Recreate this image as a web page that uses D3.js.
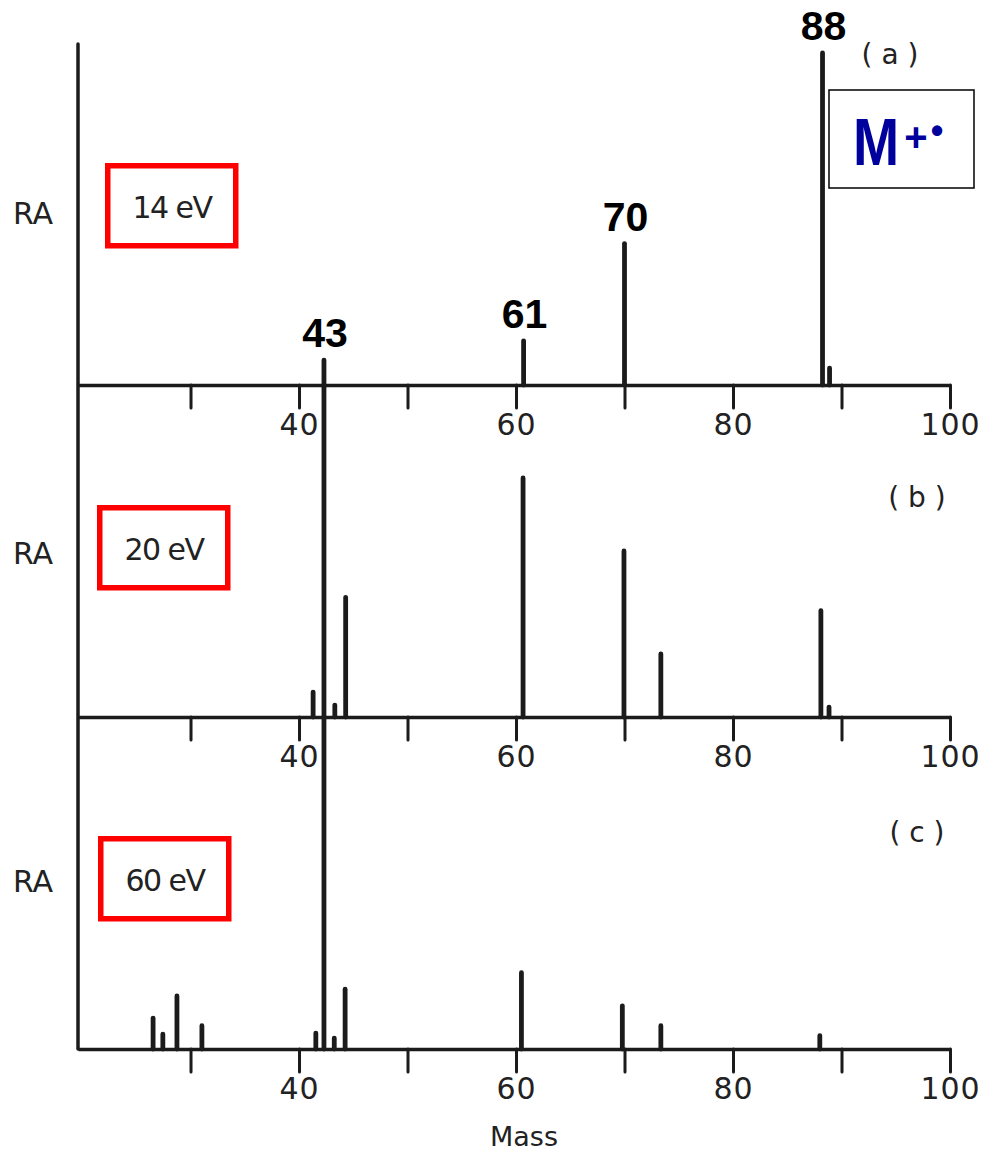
<!DOCTYPE html>
<html>
<head>
<meta charset="utf-8">
<script src="https://cdn.jsdelivr.net/npm/d3@7"></script>
<style>
  body { margin: 0; background: #fff; }
  svg { display: block; }
  .tick text { font-family: "DejaVu Sans", sans-serif; }
</style>
</head>
<body>
<script>
(function(){
  var width = 986;
  var height = 1155;

  // mass positions as drawn, relative abundance (% of base peak)
  var massesA = [42.3, 60.7, 70.0, 88.25, 88.9];
  var valuesA = [7.5, 13.3, 42.6, 100, 5.1];

  var massesB = [41.3, 42.3, 43.3, 44.3, 60.65, 69.95, 73.35, 88.1, 88.85];
  var valuesB = [7.5, 100, 3.6, 36, 72, 50, 19, 32, 3];

  var massesC = [26.55, 27.45, 28.75, 31.05, 41.55, 42.3, 43.25, 44.25, 60.5, 69.8, 73.35, 88.0];
  var valuesC = [9.3, 4.5, 16, 7, 4.8, 99.5, 3.3, 18, 23, 13, 7, 4];

  var energies = ["14 eV", "20 eV", "60 eV"];
  var panelTags = ["( a )", "( b )", "( c )"];

  var peakLabels = ["43", "61", "70", "88"];
  var peakLabelMasses = [42.3, 60.7, 70.0, 88.25];
  var peakLabelValues = [7.5, 13.3, 42.6, 100];

  var tickValues = [30, 40, 50, 60, 70, 80, 90, 100];
  var tickLabels = [40, 60, 80, 100];

  var panels = [
    { masses: massesA, values: valuesA },
    { masses: massesB, values: valuesB },
    { masses: massesC, values: valuesC }
  ];

  var ink = "#1b1b1b";
  var firstBase = 385;
  var panelStep = 332;

  var x = d3.scaleLinear().domain([19.63, 100]).range([78, 950]);
  var y = d3.scaleLinear().domain([0, 100]).range([0, 332]);

  var svg = d3.select("body").append("svg")
    .attr("width", width)
    .attr("height", height);

  // shared vertical axis
  svg.append("line")
    .attr("x1", x(19.63)).attr("x2", x(19.63))
    .attr("y1", firstBase - y(102.7))
    .attr("y2", firstBase + 2 * panelStep)
    .attr("stroke", ink)
    .attr("stroke-width", 3.5)
    .attr("stroke-linecap", "round");

  panels.forEach(function(p, i) {
    var base = firstBase + i * panelStep;
    var g = svg.append("g");

    var axis = d3.axisBottom(x)
      .tickValues(tickValues)
      .tickSize(23)
      .tickSizeOuter(0)
      .tickPadding(6)
      .tickFormat(function(d) { return tickLabels.indexOf(d) >= 0 ? d : ""; });

    var ax = g.append("g")
      .attr("transform", "translate(0," + base + ")")
      .call(axis);
    ax.select(".domain")
      .attr("stroke", ink)
      .attr("stroke-width", 3.5);
    ax.selectAll(".tick line")
      .attr("stroke", ink)
      .attr("stroke-width", 3)
      .attr("stroke-linecap", "round");
    ax.selectAll(".tick text")
      .attr("fill", "#222")
      .attr("font-size", 30)
      .attr("letter-spacing", 1);

    // peaks
    g.selectAll("line.peak")
      .data(p.masses)
      .enter().append("line")
      .attr("class", "peak")
      .attr("x1", function(d) { return x(d); })
      .attr("x2", function(d) { return x(d); })
      .attr("y1", base)
      .attr("y2", function(d, j) { return base - y(p.values[j]); })
      .attr("stroke", ink)
      .attr("stroke-width", 4.8)
      .attr("stroke-linecap", "round");

    // RA label
    var mid = [213, 553, 881][i];
    g.append("text")
      .attr("x", 33).attr("y", mid + 11)
      .attr("text-anchor", "middle")
      .attr("font-family", "DejaVu Sans, sans-serif")
      .attr("font-size", 30)
      .attr("fill", "#222")
      .text("RA");

    // energy boxes
    var bx = [105, 97, 98][i];
    var by = [163, 505, 836][i];
    g.append("rect")
      .attr("x", bx + 2.75).attr("y", by + 2.75)
      .attr("width", 128).attr("height", 80)
      .attr("fill", "none")
      .attr("stroke", "#ff0000")
      .attr("stroke-width", 5.5);
    g.append("text")
      .attr("x", bx + 67).attr("y", by + 55)
      .attr("text-anchor", "middle")
      .attr("font-family", "DejaVu Sans, sans-serif")
      .attr("font-size", 30)
      .attr("letter-spacing", -1.5)
      .attr("fill", "#222")
      .text(energies[i]);

    // panel tag
    g.append("text")
      .attr("x", i === 0 ? 890 : 917)
      .attr("y", [64, 507, 842][i])
      .attr("text-anchor", "middle")
      .attr("font-family", "DejaVu Sans, sans-serif")
      .attr("font-size", 28)
      .attr("fill", "#222")
      .attr("xml:space", "preserve")
      .text(panelTags[i]);
  });

  // peak labels for panel (a)
  svg.selectAll("text.peaklabel")
    .data(peakLabels)
    .enter().append("text")
    .attr("class", "peaklabel")
    .attr("x", function(d, j) { return x(peakLabelMasses[j]) + 1; })
    .attr("y", function(d, j) { return firstBase - y(peakLabelValues[j]) - 13; })
    .attr("text-anchor", "middle")
    .attr("font-family", "Liberation Sans, Arial, sans-serif")
    .attr("font-weight", "bold")
    .attr("font-size", 41)
    .attr("fill", "#000")
    .text(function(d) { return d; });

  // molecular ion box
  svg.append("rect")
    .attr("x", 829).attr("y", 90)
    .attr("width", 145).attr("height", 98)
    .attr("fill", "#fff")
    .attr("stroke", "#000")
    .attr("stroke-width", 1.5);
  svg.append("text")
    .attr("transform", "translate(876,165) scale(0.84,1)")
    .attr("text-anchor", "middle")
    .attr("font-family", "Liberation Sans, Arial, sans-serif")
    .attr("font-weight", "bold")
    .attr("font-size", 66)
    .attr("fill", "#00009c")
    .text("M");
  svg.append("text")
    .attr("x", 916).attr("y", 151)
    .attr("text-anchor", "middle")
    .attr("font-family", "Liberation Sans, Arial, sans-serif")
    .attr("font-weight", "bold")
    .attr("font-size", 40)
    .attr("fill", "#00009c")
    .text("+");
  svg.append("text")
    .attr("x", 937).attr("y", 143)
    .attr("text-anchor", "middle")
    .attr("font-family", "Liberation Sans, Arial, sans-serif")
    .attr("font-weight", "bold")
    .attr("font-size", 36)
    .attr("fill", "#00009c")
    .text("•");

  // x-axis title
  svg.append("text")
    .attr("x", 524).attr("y", 1146)
    .attr("text-anchor", "middle")
    .attr("font-family", "DejaVu Sans, sans-serif")
    .attr("font-size", 27)
    .attr("fill", "#222")
    .text("Mass");
})();
</script>
</body>
</html>
